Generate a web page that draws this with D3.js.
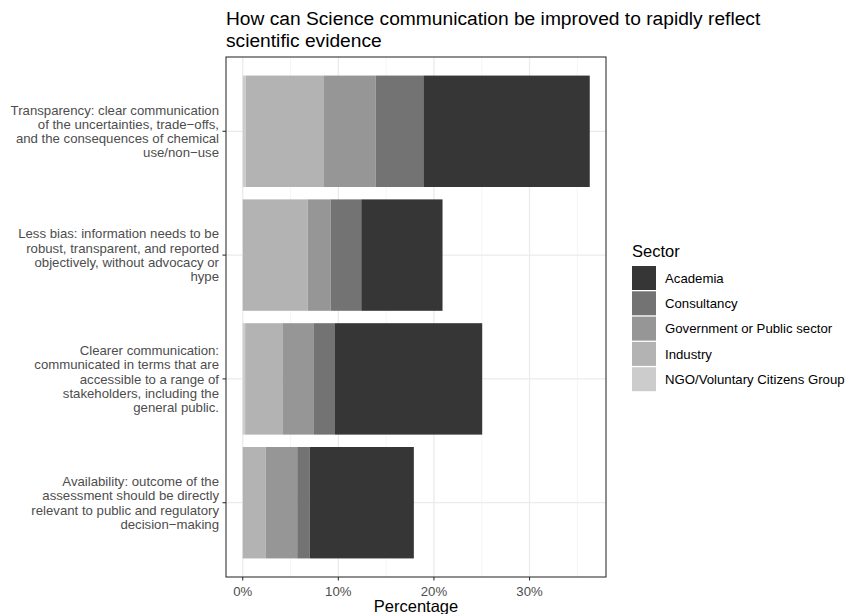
<!DOCTYPE html>
<html>
<head>
<meta charset="utf-8">
<script src="https://cdn.jsdelivr.net/npm/d3@7"></script>
<style>
  html, body { margin: 0; padding: 0; background: #fff; }
  svg { display: block; font-family: "Liberation Sans", Arial, Helvetica, sans-serif; }
</style>
</head>
<body>
<svg id="chart" width="848" height="614"></svg>
<script>
// ---- Data ----
const title = ["How can Science communication be improved to rapidly reflect", "scientific evidence"];
const categories = [
  ["Transparency: clear communication", "of the uncertainties, trade\u2212offs,", "and the consequences of chemical", "use/non\u2212use"],
  ["Less bias: information needs to be", "robust, transparent, and reported", "objectively, without advocacy or", "hype"],
  ["Clearer communication:", "communicated in terms that are", "accessible to a range of", "stakeholders, including the", "general public."],
  ["Availability: outcome of the", "assessment should be directly", "relevant to public and regulatory", "decision\u2212making"]
];
const sectors = ["Academia", "Consultancy", "Government or Public sector", "Industry", "NGO/Voluntary Citizens Group"];
const sectorColors = ["#363636", "#737373", "#969696", "#b3b3b3", "#cccccc"];
// values (percent) per category, in sector order
const academia    = [17.4, 8.5, 15.4, 10.9];
const consultancy = [5.0, 3.2, 2.2, 1.3];
const government  = [5.4, 2.4, 3.3, 3.3];
const industry    = [8.2, 6.8, 3.9, 2.4];
const ngo         = [0.3, 0.0, 0.25, 0.0];
const xTicks = [0, 10, 20, 30];
const xTickLabels = ["0%", "10%", "20%", "30%"];
const xMinor = [5, 15, 25, 35];

const seriesValues = [academia, consultancy, government, industry, ngo];

// ---- Layout ----
const svg = d3.select("#chart");
const panel = { left: 226, right: 606, top: 57, bottom: 577 };

const x = d3.scaleLinear().domain([-1.75, 38]).range([panel.left, panel.right]);
const y = d3.scaleBand().domain(d3.range(categories.length)).range([panel.top, panel.bottom]).paddingInner(0.1).paddingOuter(0.15);

// panel bg
svg.append("rect").attr("x", panel.left).attr("y", panel.top)
  .attr("width", panel.right - panel.left).attr("height", panel.bottom - panel.top)
  .attr("fill", "#fff");

const grid = svg.append("g");
xMinor.forEach(v => grid.append("line")
  .attr("x1", x(v)).attr("x2", x(v)).attr("y1", panel.top).attr("y2", panel.bottom)
  .attr("stroke", "#f0f0f0").attr("stroke-width", 0.7));
xTicks.forEach(v => grid.append("line")
  .attr("x1", x(v)).attr("x2", x(v)).attr("y1", panel.top).attr("y2", panel.bottom)
  .attr("stroke", "#ebebeb").attr("stroke-width", 1.3));
categories.forEach((c, i) => grid.append("line")
  .attr("x1", panel.left).attr("x2", panel.right)
  .attr("y1", y(i) + y.bandwidth() / 2).attr("y2", y(i) + y.bandwidth() / 2)
  .attr("stroke", "#ebebeb").attr("stroke-width", 1.3));

// stacked bars: NGO leftmost ... Academia rightmost
const stackOrder = [4, 3, 2, 1, 0];
const bars = svg.append("g");
categories.forEach((c, i) => {
  let acc = 0;
  stackOrder.forEach(s => {
    const v = seriesValues[s][i];
    if (v > 0) {
      bars.append("rect")
        .attr("x", x(acc)).attr("width", x(acc + v) - x(acc))
        .attr("y", y(i)).attr("height", y.bandwidth())
        .attr("fill", sectorColors[s]);
    }
    acc += v;
  });
});

// panel border
svg.append("rect").attr("x", panel.left).attr("y", panel.top)
  .attr("width", panel.right - panel.left).attr("height", panel.bottom - panel.top)
  .attr("fill", "none").attr("stroke", "#333333").attr("stroke-width", 1.1);

// x axis
const xAxis = svg.append("g");
xTicks.forEach((v, i) => {
  xAxis.append("line").attr("x1", x(v)).attr("x2", x(v))
    .attr("y1", panel.bottom).attr("y2", panel.bottom + 3.5)
    .attr("stroke", "#333").attr("stroke-width", 1.1);
  xAxis.append("text").attr("x", x(v)).attr("y", panel.bottom + 18.5)
    .attr("text-anchor", "middle").attr("font-size", 13.2).attr("fill", "#4d4d4d")
    .text(xTickLabels[i]);
});
svg.append("text").attr("x", (panel.left + panel.right) / 2).attr("y", 612)
  .attr("text-anchor", "middle").attr("font-size", 16.5).attr("fill", "#000")
  .text("Percentage");

// y axis
const yAxis = svg.append("g");
const lineH = 14.3;
categories.forEach((lines, i) => {
  const cy = y(i) + y.bandwidth() / 2;
  yAxis.append("line").attr("x1", panel.left - 3.5).attr("x2", panel.left)
    .attr("y1", cy).attr("y2", cy).attr("stroke", "#333").attr("stroke-width", 1.1);
  const t = yAxis.append("text").attr("text-anchor", "end").attr("font-size", 13.2).attr("fill", "#4d4d4d");
  const n = lines.length;
  lines.forEach((l, k) => {
    t.append("tspan").attr("x", panel.left - 7)
      .attr("y", cy + (k - (n - 1) / 2) * lineH + 4.7).text(l);
  });
});

// title
title.forEach((l, k) => svg.append("text").attr("x", panel.left).attr("y", 25 + k * 22)
  .attr("font-size", 19.2).attr("fill", "#000").text(l));

// legend
const lg = svg.append("g");
lg.append("text").attr("x", 632).attr("y", 257).attr("font-size", 16.5).attr("fill", "#000").text("Sector");
sectors.forEach((s, i) => {
  const ky = 266 + i * 25.3;
  lg.append("rect").attr("x", 632).attr("y", ky).attr("width", 24).attr("height", 24)
    .attr("fill", sectorColors[i]);
  lg.append("text").attr("x", 665).attr("y", ky + 16.8).attr("font-size", 13.2).attr("fill", "#000").text(s);
});
</script>
</body>
</html>
